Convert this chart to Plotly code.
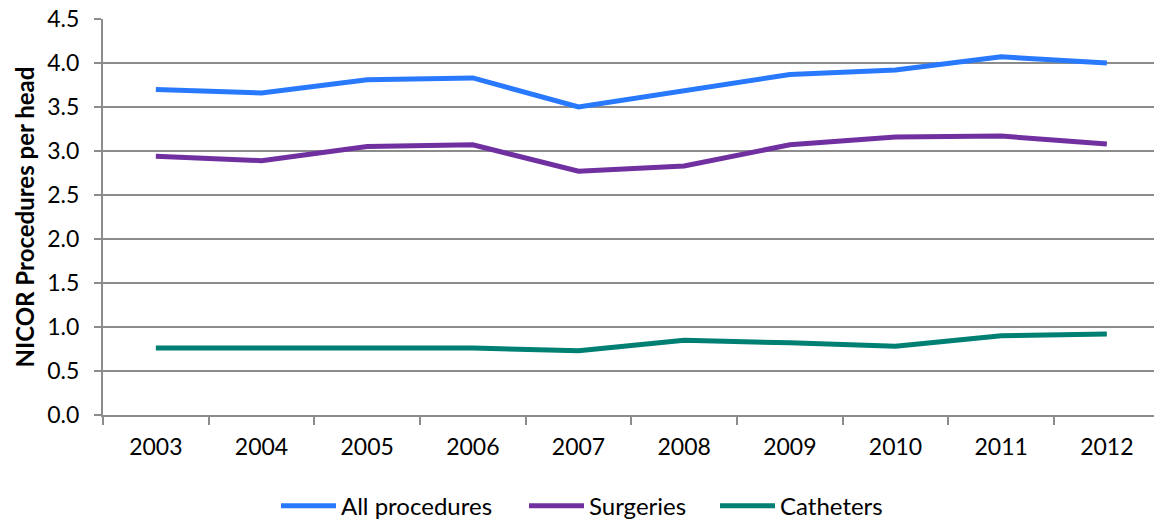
import plotly.graph_objects as go

years = ["2003", "2004", "2005", "2006", "2007", "2008", "2009", "2010", "2011", "2012"]
all_procedures = [3.70, 3.66, 3.81, 3.83, 3.50, 3.68, 3.87, 3.92, 4.07, 4.00]
surgeries = [2.94, 2.89, 3.05, 3.07, 2.77, 2.83, 3.07, 3.16, 3.17, 3.08]
catheters = [0.76, 0.76, 0.76, 0.76, 0.73, 0.85, 0.82, 0.78, 0.90, 0.92]

series = [
    ("All procedures", all_procedures, "#2979FF"),
    ("Surgeries", surgeries, "#7030A0"),
    ("Catheters", catheters, "#007F73"),
]

FONT = "Lato, 'Open Sans', sans-serif"
GRID = "#8C8C8C"
W, H = 1154, 519

# one legend per series so each entry can be placed on its own
legend_ids = ["legend", "legend2", "legend3"]
legend_left_px = [276, 524, 715]

fig = go.Figure()
for (name, vals, color), lid in zip(series, legend_ids):
    fig.add_trace(go.Scatter(
        x=years, y=vals, name=name, mode="lines",
        line=dict(color=color, width=5), legend=lid,
    ))

legend_common = dict(
    orientation="h", xref="container", xanchor="left",
    yref="container", y=0.025, yanchor="middle",
    font=dict(family=FONT, size=24), itemwidth=55,
)

fig.update_layout(
    width=W, height=H,
    margin=dict(l=103, r=0, t=19, b=104, autoexpand=False),
    paper_bgcolor="white", plot_bgcolor="white",
    font=dict(family=FONT, size=23, color="#000000"),
    showlegend=True,
    xaxis=dict(
        type="category", range=[-0.5, 9.446],
        showgrid=False, showline=True, linecolor=GRID, linewidth=2,
        ticks="outside", tickson="boundaries", ticklen=8, tickcolor=GRID, tickwidth=2,
        tickfont=dict(family=FONT, size=23), ticklabelstandoff=10,
        zeroline=False,
    ),
    yaxis=dict(
        range=[0, 4.5], dtick=0.5, tickformat=".1f",
        showgrid=True, gridcolor=GRID, gridwidth=2,
        showline=True, linecolor=GRID, linewidth=2,
        ticks="outside", ticklen=7, tickcolor=GRID, tickwidth=2,
        tickfont=dict(family=FONT, size=23), ticklabelstandoff=10,
        zeroline=False,
        title=dict(text="<b>NICOR Procedures per head</b>",
                   font=dict(family=FONT, size=24), standoff=6),
    ),
)
for lid, left in zip(legend_ids, legend_left_px):
    fig.update_layout({lid: dict(legend_common, x=left / W)})

fig.write_html("out.html")
